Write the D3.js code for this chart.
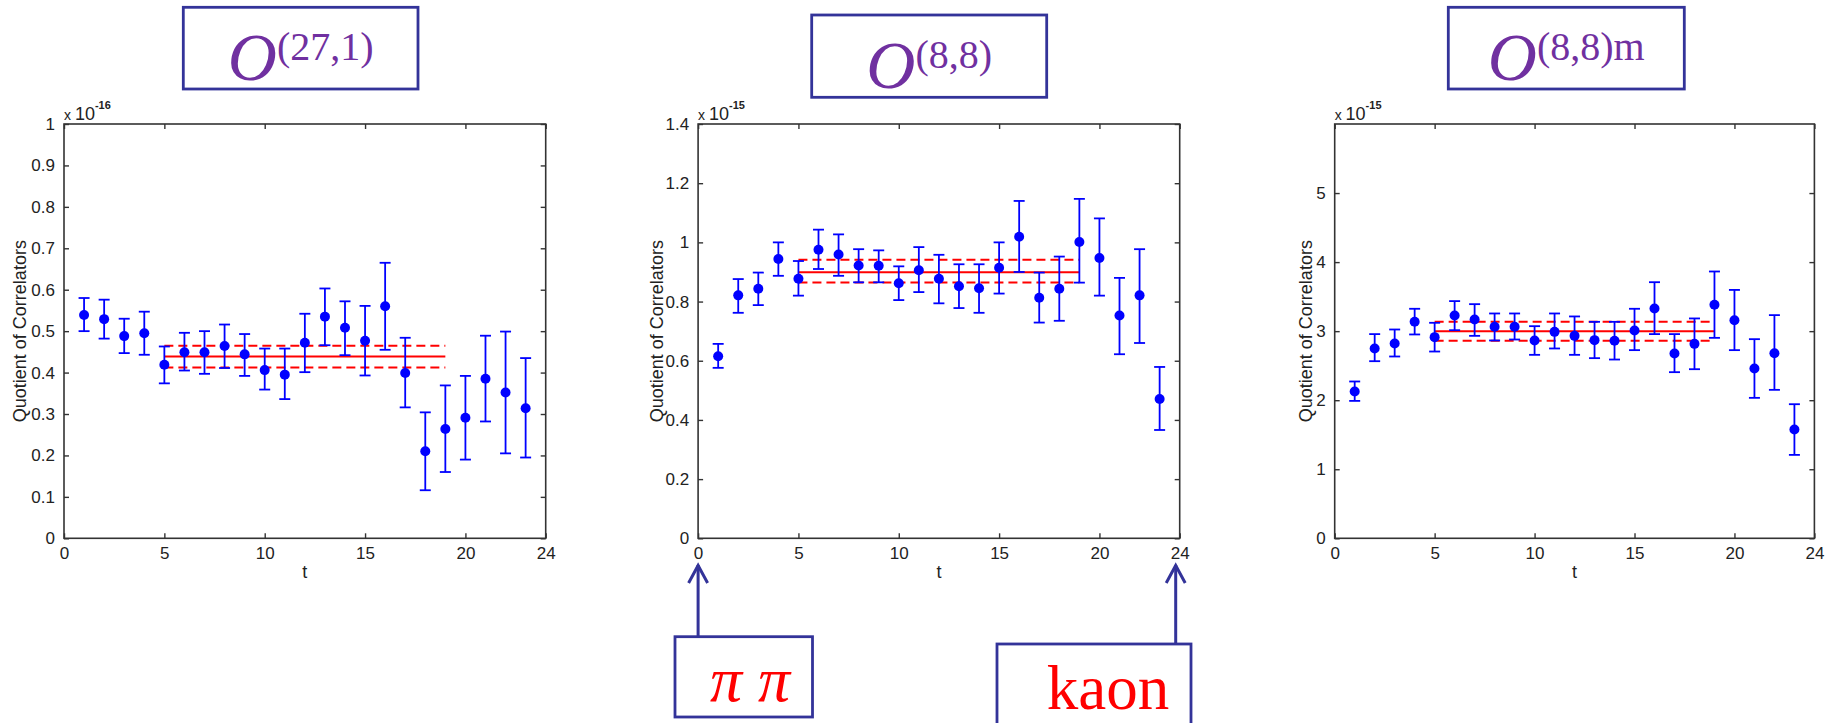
<!DOCTYPE html>
<html>
<head>
<meta charset="utf-8">
<script src="https://cdn.jsdelivr.net/npm/d3@7"></script>
<style>
    body { margin: 0; background: #fff; }
    svg { display: block; }
</style>
</head>
<body>
<svg id="chart" width="1837" height="723"></svg>
<script>
// time slices
var tVals = [1, 2, 3, 4, 5, 6, 7, 8, 9, 10, 11, 12, 13, 14, 15, 16, 17, 18, 19, 20, 21, 22, 23];
var xTicks = [0, 5, 10, 15, 20, 24];

// O(27,1), units of 1e-16
var q271 = [0.539, 0.529, 0.488, 0.495, 0.419, 0.449, 0.449, 0.464, 0.444, 0.406, 0.395, 0.472, 0.535, 0.508, 0.477, 0.560, 0.399, 0.210, 0.264, 0.291, 0.385, 0.352, 0.314];
var q271Hi = [0.580, 0.576, 0.530, 0.547, 0.463, 0.496, 0.500, 0.516, 0.493, 0.458, 0.458, 0.542, 0.603, 0.572, 0.561, 0.665, 0.484, 0.304, 0.369, 0.392, 0.489, 0.499, 0.435];
var q271Lo = [0.500, 0.482, 0.447, 0.443, 0.374, 0.405, 0.397, 0.411, 0.392, 0.359, 0.336, 0.401, 0.466, 0.442, 0.393, 0.455, 0.316, 0.116, 0.160, 0.190, 0.282, 0.205, 0.195];
var fit271 = [0.439, 0.412, 0.465];
var yTicks271 = [0, 0.1, 0.2, 0.3, 0.4, 0.5, 0.6, 0.7, 0.8, 0.9, 1];

// O(8,8), units of 1e-15
var q88 = [0.615, 0.821, 0.843, 0.944, 0.877, 0.975, 0.959, 0.922, 0.921, 0.862, 0.906, 0.877, 0.852, 0.845, 0.914, 1.019, 0.813, 0.843, 1.001, 0.947, 0.753, 0.821, 0.471];
var q88Hi = [0.657, 0.876, 0.898, 1.000, 0.937, 1.043, 1.027, 0.977, 0.973, 0.919, 0.984, 0.958, 0.926, 0.926, 1.000, 1.140, 0.898, 0.952, 1.147, 1.081, 0.880, 0.977, 0.579];
var q88Lo = [0.576, 0.762, 0.788, 0.887, 0.820, 0.910, 0.887, 0.865, 0.865, 0.805, 0.832, 0.794, 0.778, 0.762, 0.827, 0.900, 0.729, 0.735, 0.864, 0.820, 0.622, 0.660, 0.366];
var fit88 = [0.899, 0.864, 0.941];
var yTicks88 = [0, 0.2, 0.4, 0.6, 0.8, 1, 1.2, 1.4];

// O(8,8)m, units of 1e-15
var q88m = [2.126, 2.749, 2.821, 3.135, 2.913, 3.227, 3.169, 3.063, 3.063, 2.865, 2.990, 2.932, 2.870, 2.860, 3.010, 3.329, 2.676, 2.816, 3.382, 3.159, 2.459, 2.681, 1.575];
var q88mHi = [2.271, 2.957, 3.024, 3.324, 3.121, 3.435, 3.391, 3.256, 3.256, 3.072, 3.256, 3.213, 3.135, 3.135, 3.324, 3.709, 2.957, 3.184, 3.864, 3.597, 2.884, 3.232, 1.942];
var q88mLo = [1.990, 2.565, 2.633, 2.952, 2.705, 3.014, 2.932, 2.865, 2.879, 2.657, 2.749, 2.657, 2.609, 2.589, 2.725, 2.957, 2.406, 2.449, 2.903, 2.725, 2.034, 2.150, 1.208];
var fit88m = [3.0, 2.860, 3.135];
var yTicks88m = [0, 1, 2, 3, 4, 5];

// plateau fit range
var fitRange = [5, 19];

var svg = d3.select("#chart");
var blue = "#0000ff";
var red = "#ff0000";
var frame = "#333";
var boxColor = "#333399";
var purple = "#7030a0";
var top0 = 124, bottom0 = 538.3;

function drawChart(opt) {
    var g = svg.append("g");
    var x = d3.scaleLinear().domain([0, 24]).range([opt.left, opt.right]);
    var y = d3.scaleLinear().domain([0, opt.yMax]).range([bottom0, top0]);

    // box around axes
    g.append("rect")
        .attr("x", opt.left)
        .attr("y", top0)
        .attr("width", opt.right - opt.left)
        .attr("height", bottom0 - top0)
        .attr("fill", "none")
        .attr("stroke", frame)
        .attr("stroke-width", 1.6);

    // axes, ticks inside on all sides
    var fmt = function (d) { return String(+d.toFixed(1)); };
    g.append("g")
        .attr("transform", "translate(0," + bottom0 + ")")
        .call(d3.axisBottom(x).tickValues(opt.xTicks).tickSizeInner(-5).tickSizeOuter(0).tickPadding(9).tickFormat(d3.format("d")));
    g.append("g")
        .attr("transform", "translate(0," + top0 + ")")
        .call(d3.axisTop(x).tickValues(opt.xTicks).tickSizeInner(-5).tickSizeOuter(0).tickFormat(""));
    g.append("g")
        .attr("transform", "translate(" + opt.left + ",0)")
        .call(d3.axisLeft(y).tickValues(opt.yTicks).tickSizeInner(-5).tickSizeOuter(0).tickPadding(9).tickFormat(fmt));
    g.append("g")
        .attr("transform", "translate(" + opt.right + ",0)")
        .call(d3.axisRight(y).tickValues(opt.yTicks).tickSizeInner(-5).tickSizeOuter(0).tickFormat(""));

    g.selectAll(".domain").remove();
    g.selectAll(".tick line").attr("stroke", frame).attr("stroke-width", 1.4);
    g.selectAll(".tick text")
        .attr("fill", "#222")
        .style("font-family", "Liberation Sans, Arial, sans-serif")
        .style("font-size", "17px");

    // axis labels
    g.append("text")
        .attr("x", (opt.left + opt.right) / 2)
        .attr("y", 578)
        .attr("text-anchor", "middle")
        .style("font-family", "Liberation Sans, Arial, sans-serif")
        .style("font-size", "18px")
        .attr("fill", "#222")
        .text("t");
    g.append("text")
        .attr("transform", "translate(" + (opt.left - opt.labelOffset) + "," + ((top0 + bottom0) / 2) + ") rotate(-90)")
        .attr("text-anchor", "middle")
        .attr("dy", "0.35em")
        .style("font-family", "Liberation Sans, Arial, sans-serif")
        .style("font-size", "18px")
        .attr("fill", "#222")
        .text("Quotient of Correlators");

    // exponent
    var ex = g.append("text")
        .attr("x", opt.left)
        .attr("y", 120)
        .style("font-family", "Liberation Sans, Arial, sans-serif")
        .style("font-size", "18px")
        .attr("fill", "#222");
    ex.append("tspan").style("font-size", "14px").text("x ");
    ex.append("tspan").text("10");
    ex.append("tspan")
        .attr("dy", -11)
        .style("font-size", "11px")
        .style("font-weight", "bold")
        .text(opt.exp);

    // fit lines
    var fit = opt.fit;
    g.selectAll(".fit")
        .data(fit)
        .enter()
        .append("line")
        .attr("x1", x(fitRange[0]))
        .attr("x2", x(fitRange[1]))
        .attr("y1", function (d) { return y(d); })
        .attr("y2", function (d) { return y(d); })
        .attr("stroke", red)
        .attr("stroke-width", 2)
        .attr("stroke-dasharray", function (d, i) { return i == 0 ? null : "9,5"; });

    // error bars
    var pts = opt.vals.map(function (v, i) {
        return { t: tVals[i], v: v, lo: opt.lo[i], hi: opt.hi[i] };
    });
    var eb = g.selectAll(".eb")
        .data(pts)
        .enter()
        .append("g");
    eb.append("line")
        .attr("x1", function (d) { return x(d.t); })
        .attr("x2", function (d) { return x(d.t); })
        .attr("y1", function (d) { return y(d.lo); })
        .attr("y2", function (d) { return y(d.hi); })
        .attr("stroke", blue)
        .attr("stroke-width", 1.8);
    eb.append("line")
        .attr("x1", function (d) { return x(d.t) - 5.5; })
        .attr("x2", function (d) { return x(d.t) + 5.5; })
        .attr("y1", function (d) { return y(d.lo); })
        .attr("y2", function (d) { return y(d.lo); })
        .attr("stroke", blue)
        .attr("stroke-width", 1.8);
    eb.append("line")
        .attr("x1", function (d) { return x(d.t) - 5.5; })
        .attr("x2", function (d) { return x(d.t) + 5.5; })
        .attr("y1", function (d) { return y(d.hi); })
        .attr("y2", function (d) { return y(d.hi); })
        .attr("stroke", blue)
        .attr("stroke-width", 1.8);
    eb.append("circle")
        .attr("cx", function (d) { return x(d.t); })
        .attr("cy", function (d) { return y(d.v); })
        .attr("r", 5)
        .attr("fill", blue);

    // title box
    svg.append("rect")
        .attr("x", opt.box[0])
        .attr("y", opt.box[1])
        .attr("width", opt.box[2])
        .attr("height", opt.box[3])
        .attr("fill", "none")
        .attr("stroke", boxColor)
        .attr("stroke-width", 2.8);
    var tt = svg.append("text")
        .attr("x", opt.box[0] + opt.box[2] / 2)
        .attr("y", opt.titleY)
        .attr("text-anchor", "middle")
        .attr("fill", purple)
        .style("font-family", "Liberation Serif, Times New Roman, serif");
    tt.append("tspan")
        .style("font-style", "italic")
        .style("font-size", "68px")
        .text("O");
    tt.append("tspan")
        .attr("dy", -20)
        .style("font-size", "40px")
        .text(opt.title);

    return x;
}

drawChart({
    left: 64, right: 545.7, yMax: 1, yTicks: yTicks271, xTicks: xTicks,
    vals: q271, lo: q271Lo, hi: q271Hi, fit: fit271, exp: "-16",
    labelOffset: 44, box: [183.3, 7.3, 234.7, 81.7], titleY: 80, title: "(27,1)"
});
var x88 = drawChart({
    left: 698.1, right: 1179.7, yMax: 1.4, yTicks: yTicks88, xTicks: xTicks,
    vals: q88, lo: q88Lo, hi: q88Hi, fit: fit88, exp: "-15",
    labelOffset: 41.5, box: [811.7, 15, 235, 82.3], titleY: 88, title: "(8,8)"
});
drawChart({
    left: 1334.7, right: 1814.4, yMax: 6, yTicks: yTicks88m, xTicks: xTicks,
    vals: q88m, lo: q88mLo, hi: q88mHi, fit: fit88m, exp: "-15",
    labelOffset: 29, box: [1448.3, 7.3, 236, 81.7], titleY: 80, title: "(8,8)m"
});

// arrows pointing at the source and sink
function arrow(ax, yEnd) {
    svg.append("line")
        .attr("x1", ax).attr("x2", ax)
        .attr("y1", 565).attr("y2", yEnd)
        .attr("stroke", boxColor).attr("stroke-width", 3);
    svg.append("path")
        .attr("d", "M" + (ax - 9.5) + ",583 L" + ax + ",565.5 L" + (ax + 9.5) + ",583")
        .attr("fill", "none")
        .attr("stroke", boxColor)
        .attr("stroke-width", 3);
}
arrow(x88(0), 637);
arrow(x88(24) - 4, 644);

// pi pi box
svg.append("rect")
    .attr("x", 675).attr("y", 636.7)
    .attr("width", 137.5).attr("height", 80.3)
    .attr("fill", "none").attr("stroke", boxColor).attr("stroke-width", 2.8);
svg.append("text")
    .attr("x", 750).attr("y", 701)
    .attr("text-anchor", "middle")
    .attr("fill", red)
    .style("font-family", "Liberation Serif, Times New Roman, serif")
    .style("font-style", "italic")
    .style("font-size", "64px")
    .text("\u03c0 \u03c0");

// kaon box
svg.append("rect")
    .attr("x", 997).attr("y", 644)
    .attr("width", 194).attr("height", 100)
    .attr("fill", "none").attr("stroke", boxColor).attr("stroke-width", 2.8);
svg.append("text")
    .attr("x", 1108).attr("y", 709)
    .attr("text-anchor", "middle")
    .attr("fill", red)
    .style("font-family", "Liberation Serif, Times New Roman, serif")
    .style("font-size", "63px")
    .text("kaon");
</script>
</body>
</html>
